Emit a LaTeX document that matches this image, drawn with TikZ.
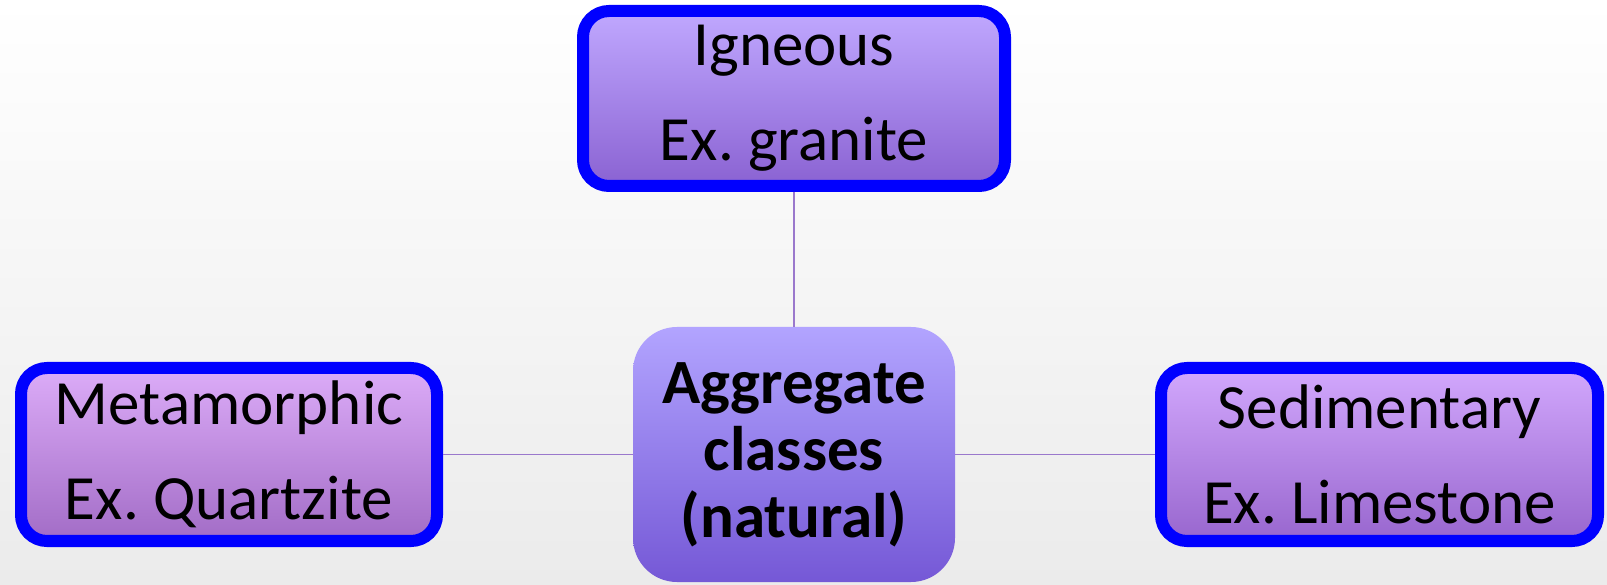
\documentclass[tikz,border=0pt]{standalone}
\usepackage{fontspec}
\setmainfont{Carlito}
\usetikzlibrary{positioning}
\frenchspacing
\definecolor{rockblue}{HTML}{0000FF}
\definecolor{linkpurple}{HTML}{9A78CC}
\definecolor{bggrey}{HTML}{EBEBEB}
\definecolor{ignTop}{HTML}{C0A8FF}
\definecolor{ignBot}{HTML}{8A62D2}
\definecolor{metTop}{HTML}{DCACF8}
\definecolor{metBot}{HTML}{A26CC6}
\definecolor{sedTop}{HTML}{D2A8FD}
\definecolor{sedBot}{HTML}{9866CE}
\definecolor{aggTop}{HTML}{B2A4FF}
\definecolor{aggBot}{HTML}{7558D6}
\tikzset{
    rock/.style={
           rectangle,
           rounded corners=13pt,
           draw=rockblue, line width=6pt,
           inner sep=0pt, outer sep=3pt,
           minimum height=86.5pt,
           align=center,
           font=\fontsize{31.5}{47.5}\selectfont,
           },
}
\tikzset{
    core/.style={
           rectangle,
           rounded corners=22pt,
           inner sep=0pt, outer sep=0pt,
           minimum width=161pt, minimum height=127.5pt,
           top color=aggTop, bottom color=aggBot,
           align=center,
           font=\bfseries\fontsize{31.5}{33.5}\selectfont,
           },
}
\tikzset{
    link/.style={
           draw=linkpurple, line width=0.75pt,
           },
}

\begin{document}
\begin{tikzpicture}
\fill[top color=white,bottom color=bggrey] (0,0) rectangle (803.5pt,292pt);
\useasboundingbox (0,0) rectangle (803.5pt,292pt);
\node[core] (agg) at (397pt,64.75pt) {Aggregate\\classes\\(natural)};
\node[rock,minimum width=211pt,minimum height=87.5pt,top color=ignTop,bottom color=ignBot,above = 67.5pt of agg](ign){Igneous\\Ex. granite};
\node[rock,minimum width=208pt,top color=metTop,bottom color=metBot,left = 95pt of agg](met){Metamorphic\\Ex. Quartzite};
\node[rock,minimum width=218.5pt,top color=sedTop,bottom color=sedBot,right = 100pt of agg](sed){Sedimentary\\Ex. Limestone};
\draw[link] (ign)--(agg);
\draw[link] (met)--(agg);
\draw[link] (sed)--(agg);
\end{tikzpicture}
\end{document}
